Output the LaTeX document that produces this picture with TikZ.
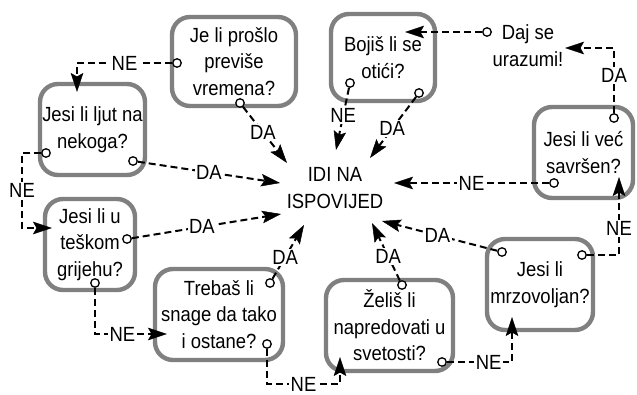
\documentclass[tikz,border=0pt]{standalone}
\usepackage{fontspec}
\setmainfont[FakeStretch=0.9]{Liberation Sans}
\usetikzlibrary{arrows.meta}
\usetikzlibrary{calc}

\begin{document}
\begin{tikzpicture}[x=1pt,y=-1pt,line width=2pt]
	\tikzstyle{pit}=[draw=gray, line width=4.4pt, rounded corners=18pt, align=center, inner sep=0pt, font=\fontsize{20.5}{26.5}\selectfont]
	\tikzstyle{kr}=[draw, circle, fill=white, line width=1.3pt, inner sep=0pt, minimum size=8.5pt]
	\tikzstyle{lab}=[fill=white, inner sep=1.5pt, font=\fontsize{20.5}{24}\selectfont]
	\tikzstyle{veza}=[-{Stealth[length=19pt,width=12.5pt,inset=3.5pt,line width=0.5pt]}, dash pattern=on 7pt off 4pt]
	\useasboundingbox (0,0) rectangle (637,395);
	% pitanja
	\node[pit, minimum width=124pt, minimum height=89pt] (p1) at (234,61.5) {Je li prošlo\\previše\\vremena?};
	\node[pit, minimum width=105pt, minimum height=91pt] (p2) at (92.5,129.5) {Jesi li ljut na\\nekoga?};
	\node[pit, minimum width=104pt, minimum height=87pt] (p3) at (383,57.5) {Bojiš li se\\otići?};
	\node[pit, minimum width=99pt, minimum height=91pt] (p4) at (583.5,152.5) {Jesi li već\\savršen?};
	\node[pit, minimum width=90pt, minimum height=91pt] (p5) at (90,244.5) {Jesi li u\\teškom\\grijehu?};
	\node[pit, minimum width=128pt, minimum height=91pt] (p6) at (219,314.5) {Trebaš li\\snage da tako\\i ostane?};
	\node[pit, minimum width=127pt, minimum height=91pt] (p7) at (389.5,325.5) {Želiš li\\napredovati u\\svetosti?};
	\node[pit, minimum width=106pt, minimum height=91pt] (p8) at (540,284.5) {Jesi li\\mrzovoljan?};
	\node[align=center, font=\fontsize{20.5}{27}\selectfont] (idi) at (335,188) {IDI NA\\ISPOVIJED};
	\node[align=center, font=\fontsize{20.5}{27}\selectfont] (daj) at (528,46) {Daj se\\urazumi!};
	% kruzici
	\node[kr] (k1a) at (177,63) {};
	\node[kr] (k1b) at (240,103) {};
	\node[kr] (k2a) at (133,161) {};
	\node[kr] (k2b) at (46,153) {};
	\node[kr] (k3a) at (350,83) {};
	\node[kr] (k3b) at (419,93) {};
	\node[kr] (k4a) at (554,183) {};
	\node[kr] (k4b) at (614,118) {};
	\node[kr] (k5a) at (127,239) {};
	\node[kr] (k5b) at (95,283) {};
	\node[kr] (k6a) at (270,283) {};
	\node[kr] (k6b) at (267,344) {};
	\node[kr] (k7a) at (402,285) {};
	\node[kr] (k7b) at (442,362) {};
	\node[kr] (k8a) at (502,252) {};
	\node[kr] (k8b) at (582,255) {};
	\node[kr] (kd) at (487,32) {};
	% vrhovi strelica
	\coordinate (c1) at (287,163);
	\coordinate (c2) at (280,183);
	\coordinate (c3) at (281,214);
	\coordinate (c4) at (304,225);
	\coordinate (c5) at (372,223);
	\coordinate (c6) at (382,221);
	\coordinate (c7) at (394,183);
	\coordinate (c8) at (336,150);
	\coordinate (c9) at (370,158);
	\coordinate (t2) at (77,92);
	\coordinate (t3) at (405,32);
	\coordinate (t4) at (619,177);
	\coordinate (t5) at (52,228);
	\coordinate (t6) at (167,334);
	\coordinate (t7) at (340,357);
	\coordinate (t8) at (512,317);
	\coordinate (td) at (565,48);
	% veze
	\draw[veza] (k1a) -| node[lab,pos=0.25]{NE} (t2);
	\draw[veza] (k1b) -- node[lab,pos=0.45]{DA} (c1);
	\draw[veza] (k2a) -- node[lab]{DA} (c2);
	\draw[veza] (k2b) -- ++(-24,0) |- node[lab,pos=0.25]{NE} (t5);
	\draw[veza] (k5a) -- node[lab,pos=0.47]{DA} (c3);
	\draw[veza] (k5b) |- node[lab,pos=0.69]{NE} (t6);
	\draw[veza] (k6a) -- node[lab,pos=0.4]{DA} (c4);
	\draw[veza] (k6b) -- ++(0,40) -| node[lab,pos=0.25]{NE} (t7);
	\draw[veza] (k7a) -- node[lab,pos=0.42]{DA} (c5);
	\draw[veza] (k7b) -| node[lab,pos=0.32]{NE} (t8);
	\draw[veza] (k8a) -- node[lab,pos=0.52]{DA} (c6);
	\draw[veza] (k8b) -| node[lab,pos=0.67]{NE} (t4);
	\draw[veza] (k4a) -- node[lab]{NE} (c7);
	\draw[veza] (k4b) |- node[lab,pos=0.29]{DA} (td);
	\draw[veza] (kd) -- (t3);
	\draw[veza] (k3a) -- node[lab,pos=0.45]{NE} (c8);
	\draw[veza] (k3b) -- node[lab,pos=0.52]{DA} (c9);
\end{tikzpicture}
\end{document}
